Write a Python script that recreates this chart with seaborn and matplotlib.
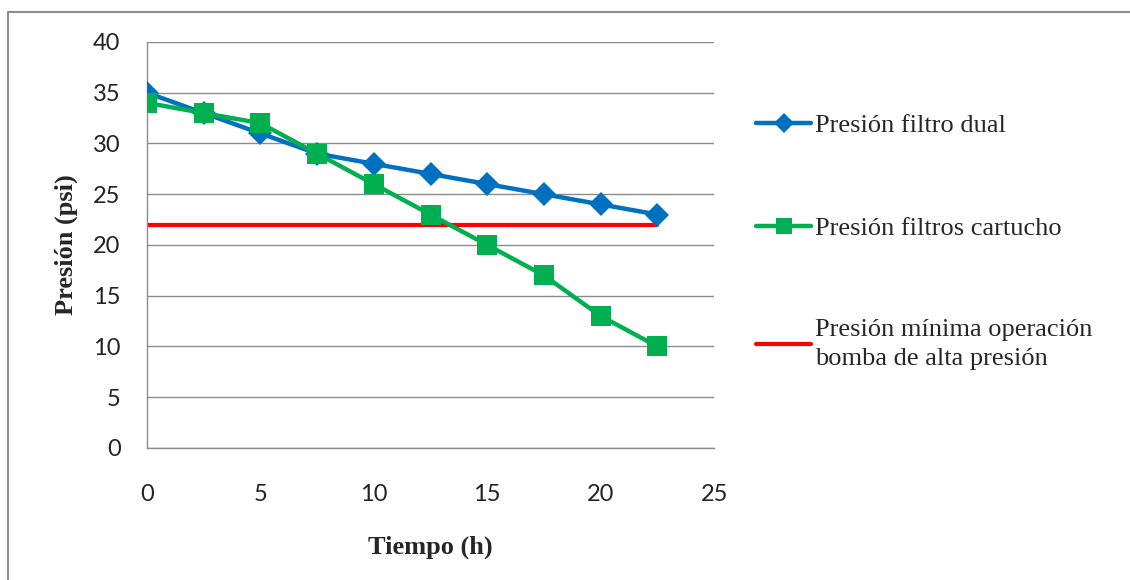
import matplotlib.pyplot as plt
import pandas as pd
import seaborn as sns
from matplotlib.lines import Line2D

# Chart data
tiempo = [0, 2.5, 5, 7.5, 10, 12.5, 15, 17.5, 20, 22.5]
presion_dual = [35, 33, 31, 29, 28, 27, 26, 25, 24, 23]
presion_cartucho = [34, 33, 32, 29, 26, 23, 20, 17, 13, 10]
presion_minima = 22

labels = ["Presión filtro dual",
          "Presión filtros cartucho",
          "Presión mínima operación\nbomba de alta presión"]
colors = ["#0070C0", "#00B050", "#FF0000"]

sns.set_theme(style="white")
plt.rcParams["font.family"] = ["Lato", "DejaVu Sans"]

fig = plt.figure(figsize=(11.3, 5.8), dpi=100)
ax = fig.add_axes([0.130, 0.2276, 0.502, 0.70])

df = pd.DataFrame({"t": tiempo, "dual": presion_dual, "cart": presion_cartucho})
df["min"] = presion_minima

# Red line drawn first so markers sit on top
sns.lineplot(data=df, x="t", y="min", ax=ax, color=colors[2], linewidth=3, zorder=2)
sns.lineplot(data=df, x="t", y="dual", ax=ax, color=colors[0], linewidth=3.2,
             marker="D", markersize=12, markeredgewidth=0, zorder=3)
sns.lineplot(data=df, x="t", y="cart", ax=ax, color=colors[1], linewidth=3.2,
             marker="s", markersize=14, markeredgewidth=0, zorder=4)

ax.set_xlim(0, 25)
ax.set_ylim(0, 40)
ax.set_xticks(range(0, 26, 5))
ax.set_yticks(range(0, 41, 5))
ax.yaxis.grid(True, color="#8C8C8C", linewidth=1)
ax.xaxis.grid(False)
for side in ["top", "right"]:
    ax.spines[side].set_visible(False)
for side in ["left", "bottom"]:
    ax.spines[side].set_color("#8C8C8C")
    ax.spines[side].set_linewidth(1)
ax.tick_params(axis="both", length=0, labelsize=17, colors="#222222")
ax.tick_params(axis="x", pad=26)
ax.tick_params(axis="y", pad=19)

serif = ["Liberation Serif", "DejaVu Serif"]
ax.set_xlabel("Tiempo (h)", fontsize=19, fontweight="bold", family=serif, labelpad=22)
ax.set_ylabel("Presión (psi)", fontsize=19, fontweight="bold", family=serif, labelpad=11)

handles = [
    Line2D([], [], color=colors[0], linewidth=3.2, marker="D", markersize=10, markeredgewidth=0),
    Line2D([], [], color=colors[1], linewidth=3.2, marker="s", markersize=12, markeredgewidth=0),
    Line2D([], [], color=colors[2], linewidth=3),
]
leg = fig.legend(handles, labels, loc="upper left", bbox_to_anchor=(0.648, 0.845),
                 frameon=False, handlelength=2.1, handletextpad=0.12,
                 labelspacing=3.0, prop={"family": serif, "size": 19})
leg.get_texts()[2].set_linespacing(1.4)

# Outer chart border (left and top visible)
fig.add_artist(Line2D([0.0075, 0.0075], [0.0, 0.979], color="#8C8C8C", linewidth=1.5,
                      transform=fig.transFigure))
fig.add_artist(Line2D([0.0075, 1.0], [0.979, 0.979], color="#8C8C8C", linewidth=1.5,
                      transform=fig.transFigure))

fig.savefig("out.png", dpi=100)
